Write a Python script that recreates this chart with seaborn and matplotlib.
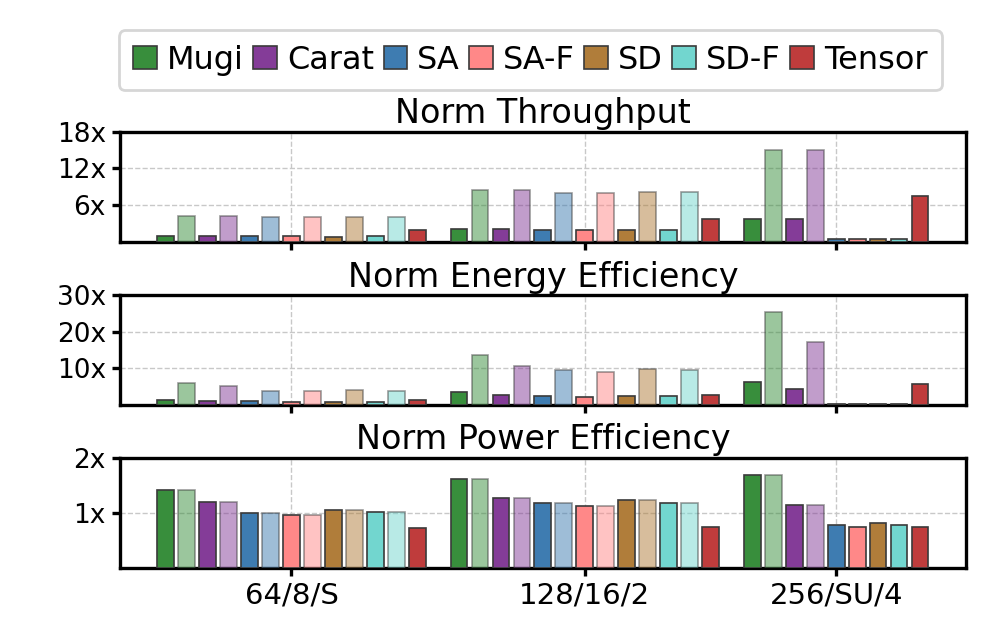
import numpy as np
import pandas as pd
import seaborn as sns
import matplotlib.pyplot as plt
from matplotlib.patches import Patch

# --- data ---
methods = ["Mugi", "Carat", "SA", "SA-F", "SD", "SD-F", "Tensor"]
colors = ["#388E3C", "#843C98", "#3E7CB1", "#FF8888", "#B07D3A", "#72D6CF", "#BF3C3C"]
groups = ["64/8/S", "128/16/2", "256/SU/4"]

# bar layout per group: (method, faded?)
bars_full = [("Mugi", 0), ("Mugi", 1), ("Carat", 0), ("Carat", 1), ("SA", 0), ("SA", 1),
             ("SA-F", 0), ("SA-F", 1), ("SD", 0), ("SD", 1), ("SD-F", 0), ("SD-F", 1),
             ("Tensor", 0)]
bars_short = [("Mugi", 0), ("Mugi", 1), ("Carat", 0), ("Carat", 1), ("SA", 0),
              ("SA-F", 0), ("SD", 0), ("SD-F", 0), ("Tensor", 0)]

throughput_g1 = [1.0, 4.2, 0.95, 4.2, 0.9, 4.0, 0.9, 4.0, 0.85, 4.0, 0.9, 4.0, 1.9]
throughput_g2 = [2.1, 8.45, 2.1, 8.45, 2.0, 8.05, 2.0, 8.05, 2.0, 8.1, 2.0, 8.1, 3.75]
throughput_g3 = [3.75, 15.1, 3.75, 15.1, 0.4, 0.4, 0.4, 0.4, 7.5]

energy_g1 = [1.5, 5.9, 1.2, 5.1, 1.0, 3.9, 0.85, 3.75, 0.9, 4.2, 0.9, 3.9, 1.3]
energy_g2 = [3.5, 13.6, 2.75, 10.8, 2.4, 9.5, 2.2, 9.0, 2.5, 9.8, 2.4, 9.5, 2.8]
energy_g3 = [6.3, 25.3, 4.3, 17.3, 0.2, 0.2, 0.2, 0.2, 5.65]

power_g1 = [1.41, 1.41, 1.2, 1.2, 1.0, 1.0, 0.96, 0.96, 1.05, 1.05, 1.01, 1.01, 0.73]
power_g2 = [1.62, 1.62, 1.27, 1.27, 1.17, 1.17, 1.12, 1.12, 1.23, 1.23, 1.18, 1.18, 0.74]
power_g3 = [1.68, 1.68, 1.15, 1.15, 0.78, 0.74, 0.82, 0.77, 0.74]

titles = ["Norm Throughput", "Norm Energy Efficiency", "Norm Power Efficiency"]
yticks = [[6, 12, 18], [10, 20, 30], [1, 2]]
ylims = [18, 30, 2]

panels = [
    [throughput_g1, throughput_g2, throughput_g3],
    [energy_g1, energy_g2, energy_g3],
    [power_g1, power_g2, power_g3],
]


def build_frame(vals):
    rows = []
    layouts = [bars_full, bars_full, bars_short]
    for gi, (layout, v) in enumerate(zip(layouts, vals)):
        start = gi * 14
        for bi, ((m, faded), val) in enumerate(zip(layout, v)):
            rows.append({"pos": start + bi, "value": val, "method": m, "faded": faded})
    return pd.DataFrame(rows)


sns.set_style("ticks")
plt.rcParams["font.family"] = ["DejaVu Sans"]
plt.rcParams.update({"text.color": "black", "xtick.color": "black",
                     "ytick.color": "black", "axes.labelcolor": "black"})

fig = plt.figure(figsize=(4.985, 3.215), dpi=200)
left, width = 0.120, 0.849
bottoms = [0.624, 0.370, 0.117]
height = 0.171
axes = [fig.add_axes([left, b, width, height]) for b in bottoms]

palette = dict(zip(methods, colors))
tick_pos = [6, 20, 32]

for i, ax in enumerate(axes):
    df = build_frame(panels[i])
    sns.barplot(data=df, x="pos", y="value", hue="method", palette=palette,
                native_scale=True, dodge=False, width=0.8, saturation=1,
                edgecolor="#3a3a3a", linewidth=0.6, legend=False, ax=ax, zorder=3)
    faded_pos = set(df.loc[df["faded"] == 1, "pos"])
    for p in ax.patches:
        c = p.get_x() + p.get_width() / 2
        if int(round(c)) in faded_pos:
            p.set_alpha(0.5)
    ax.set_xlim(-2.2, 38.2)
    ax.set_ylim(0, ylims[i])
    ax.set_yticks(yticks[i])
    ax.set_yticklabels([f"{t}x" for t in yticks[i]], fontsize=9.5)
    ax.set_xticks(tick_pos)
    if i == 2:
        ax.set_xticklabels(groups, fontsize=10.5)
    else:
        ax.set_xticklabels([])
    ax.set_xlabel("")
    ax.set_ylabel("")
    ax.set_title(titles[i], fontsize=12, pad=3)
    ax.grid(True, linestyle="--", linewidth=0.5, color="#c8c8c8", zorder=0)
    ax.set_axisbelow(True)
    for s in ax.spines.values():
        s.set_linewidth(1.2)
        s.set_color("black")
    ax.tick_params(axis="both", length=3, width=1.2, pad=2)

handles = [Patch(facecolor=c, edgecolor="#3a3a3a", linewidth=0.6, label=m)
           for m, c in zip(methods, colors)]
fig.legend(handles=handles, loc="upper center", bbox_to_anchor=(0.532, 0.953), ncol=7,
           fontsize=11.5, handlelength=0.75, handleheight=0.75, handletextpad=0.3,
           columnspacing=0.3, borderpad=0.45, borderaxespad=0, frameon=True,
           fancybox=True, edgecolor="#cccccc")

fig.savefig("out.png", dpi=200)
